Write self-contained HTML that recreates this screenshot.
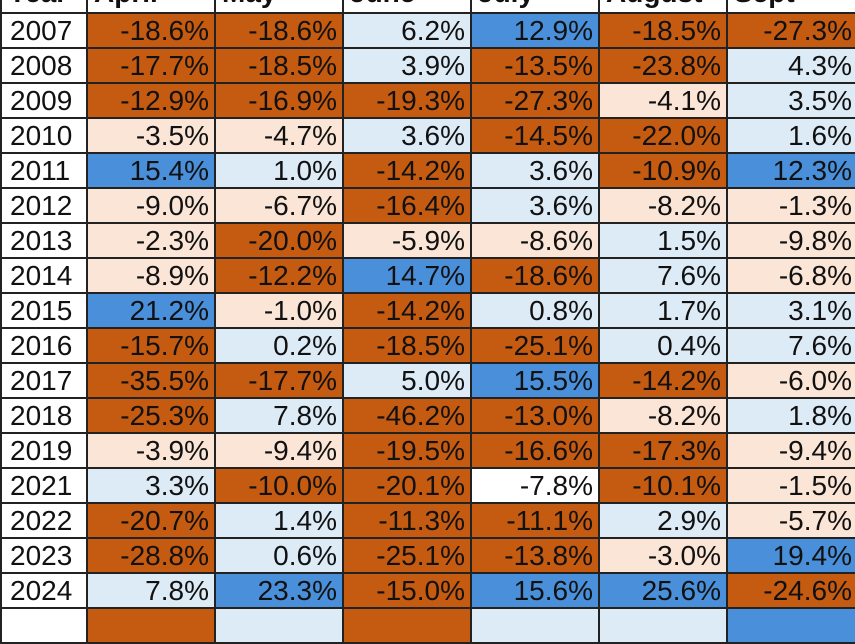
<!DOCTYPE html>
<html><head><meta charset="utf-8"><style>
body{margin:0;width:855px;height:613px;overflow:hidden;background:#fff;font-family:"Liberation Sans",Arial,sans-serif;position:relative;}
.c{position:absolute;box-sizing:border-box;border-left:2px solid #222;border-bottom:2px solid #222;font-size:28px;color:#111;text-align:right;padding-right:5px;line-height:34px;height:35px;}
.y{text-align:left;padding-left:8px;}
.h{font-weight:bold;text-align:left;padding-left:6px;line-height:28px;}
.o{background:#C55A11}.p{background:#FBE5D6}.l{background:#DDEBF7}.b{background:#4A8FDA}.w{background:#fff}
</style></head><body>
<div id="t"></div>
<script>
var xs=[0,86,214,342,470,598,726,857];
var hd=["Year","April","May","June","July","August","Sept"];
var d=[
["2007",-18.6,-18.6,6.2,12.9,-18.5,-27.3],
["2008",-17.7,-18.5,3.9,-13.5,-23.8,4.3],
["2009",-12.9,-16.9,-19.3,-27.3,-4.1,3.5],
["2010",-3.5,-4.7,3.6,-14.5,-22.0,1.6],
["2011",15.4,1.0,-14.2,3.6,-10.9,12.3],
["2012",-9.0,-6.7,-16.4,3.6,-8.2,-1.3],
["2013",-2.3,-20.0,-5.9,-8.6,1.5,-9.8],
["2014",-8.9,-12.2,14.7,-18.6,7.6,-6.8],
["2015",21.2,-1.0,-14.2,0.8,1.7,3.1],
["2016",-15.7,0.2,-18.5,-25.1,0.4,7.6],
["2017",-35.5,-17.7,5.0,15.5,-14.2,-6.0],
["2018",-25.3,7.8,-46.2,-13.0,-8.2,1.8],
["2019",-3.9,-9.4,-19.5,-16.6,-17.3,-9.4],
["2021",3.3,-10.0,-20.1,-7.8,-10.1,-1.5],
["2022",-20.7,1.4,-11.3,-11.1,2.9,-5.7],
["2023",-28.8,0.6,-25.1,-13.8,-3.0,19.4],
["2024",7.8,23.3,-15.0,15.6,25.6,-24.6]];
var h="";
for(var j=0;j<7;j++){h+='<div class="c h w" style="left:'+xs[j]+'px;top:-21px;width:'+(xs[j+1]-xs[j])+'px;">'+hd[j]+'</div>';}
for(var i=0;i<d.length;i++){var ty=14+i*35;
for(var j=0;j<7;j++){var cls,txt;
if(j==0){cls="y w";txt=d[i][0];}else{var v=d[i][j];txt=v.toFixed(1)+"%";
cls=v<=-10?"o":v<0?"p":v<11?"l":"b";if(d[i][0]=="2021"&&j==4)cls="w";}
h+='<div class="c '+cls+'" style="left:'+xs[j]+'px;top:'+ty+'px;width:'+(xs[j+1]-xs[j])+'px;">'+txt+'</div>';}}
var cl=["w","o","l","o","l","l","b"];
for(var j=0;j<7;j++){h+='<div class="c '+cl[j]+'" style="left:'+xs[j]+'px;top:609px;width:'+(xs[j+1]-xs[j])+'px;"></div>';}
document.getElementById("t").innerHTML=h;
</script>
</body></html>
